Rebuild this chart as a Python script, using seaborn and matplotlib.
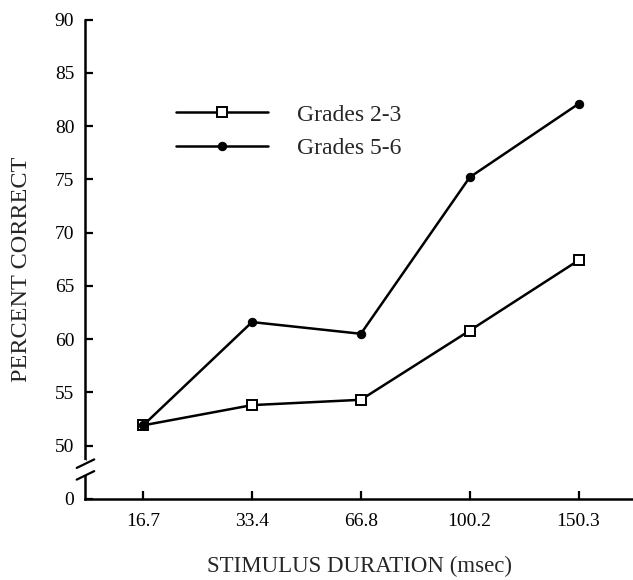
import matplotlib
matplotlib.use('Agg')
import matplotlib.pyplot as plt
import seaborn as sns

# data
durations = ['16.7', '33.4', '66.8', '100.2', '150.3']
grades_23 = [51.9, 53.8, 54.3, 60.8, 67.4]
grades_56 = [51.9, 61.6, 60.5, 75.2, 82.1]
y_ticks = [45, 50, 55, 60, 65, 70, 75, 80, 85, 90]
y_tick_labels = ['0', '50', '55', '60', '65', '70', '75', '80', '85', '90']

sns.set_style('white')
plt.rcParams['font.family'] = ['Liberation Serif', 'DejaVu Serif']

fig = plt.figure(figsize=(6.33, 5.80), dpi=100)
ax = fig.add_axes([0.135, 0.14, 0.865, 0.826])

# Plot both grade groups
sns.lineplot(x=durations, y=grades_23, ax=ax, color='black', lw=1.8,
             marker='s', ms=7, mfc='white', mec='black', mew=1.4,
             label='Grades 2-3', sort=False)
sns.lineplot(x=durations, y=grades_56, ax=ax, color='black', lw=1.8,
             marker='o', ms=6, mfc='black', mec='black',
             label='Grades 5-6', sort=False)

ax.set_xlim(-0.53, 4.5)
ax.set_ylim(45, 90)
ax.set_yticks(y_ticks)
ax.set_yticklabels(y_tick_labels)

for side in ['top', 'right']:
    ax.spines[side].set_visible(False)
for side in ['left', 'bottom']:
    ax.spines[side].set_linewidth(1.8)
    ax.spines[side].set_color('black')

ax.tick_params(axis='both', direction='in', length=6, width=1.6,
               labelsize=14, colors='black', left=True, bottom=True)
ax.tick_params(axis='y', pad=8)
ax.tick_params(axis='x', pad=10)

ax.set_xlabel('STIMULUS DURATION (msec)', fontsize=16.5, labelpad=19)
ax.set_ylabel('PERCENT CORRECT', fontsize=17.5)
ax.yaxis.set_label_coords(-0.098, 0.48)

# axis break between 0 and 50
tr = ax.get_yaxis_transform()
ax.plot([0, 0], [47.3, 48.5], transform=tr, color='white', lw=3, clip_on=False, zorder=5)
for yb in [47.2, 48.3]:
    ax.plot([-0.016, 0.016], [yb - 0.4, yb + 0.4], transform=tr, color='black',
            lw=1.6, clip_on=False, zorder=6)

leg = ax.legend(loc='upper left', bbox_to_anchor=(0.166, 0.824), frameon=False,
                fontsize=17, handlelength=3.9, handletextpad=1.2, labelspacing=0.5,
                borderpad=0, borderaxespad=0)

fig.savefig('out.png', dpi=100)
